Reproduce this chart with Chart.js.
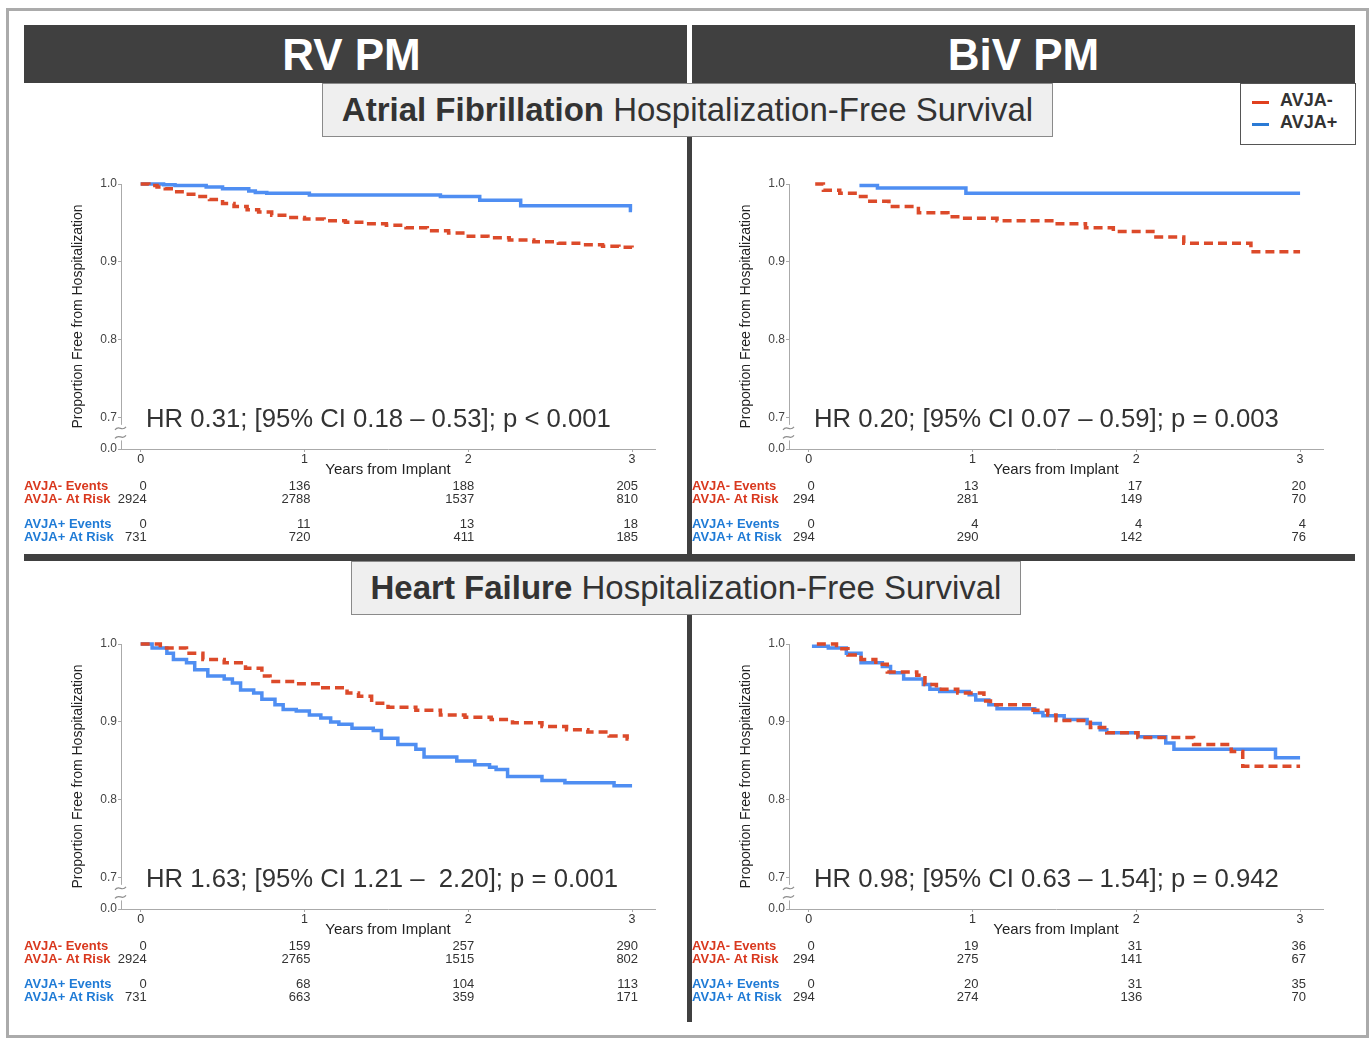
<!DOCTYPE html>
<html>
<head>
<meta charset="utf-8">
<script src="https://cdn.jsdelivr.net/npm/chart.js@4.4.1/dist/chart.umd.min.js"></script>
<style>
  body { margin:0; width:1372px; height:1040px; background:#fff; position:relative; overflow:hidden;
         font-family:'Liberation Sans', Arial, sans-serif; }
  .abs { position:absolute; }
  .frame { left:6px; top:8px; width:1363px; height:1030px; box-sizing:border-box; border:3px solid #ababab; }
  .bar { background:#404040; }
  .head { top:25px; height:58px; line-height:60px; color:#fff; font-weight:bold; font-size:44px; text-align:center; }
  .sub { background:#efefef; border:1px solid #8a8a8a; box-sizing:border-box; color:#333;
         font-size:33px; text-align:center; line-height:52px; white-space:nowrap; }
  .legend { left:1240px; top:83px; width:116px; height:62px; box-sizing:border-box; border:1px solid #555; background:#fff; }
  .legend div { position:absolute; left:39px; font-weight:bold; font-size:18px; color:#333; }
  .legend span { position:absolute; left:11px; width:17px; height:3px; }
  canvas { position:absolute; }
</style>
</head>
<body>
<div class="abs frame"></div>
<div class="abs bar" style="left:24px;top:25px;width:1331px;height:58px"></div>
<div class="abs" style="left:687px;top:25px;width:5px;height:58px;background:#fff"></div>
<div class="abs head" style="left:20px;width:663px">RV PM</div>
<div class="abs head" style="left:692px;width:663px">BiV PM</div>
<div class="abs bar" style="left:687px;top:137px;width:5px;height:417px"></div>
<div class="abs bar" style="left:24px;top:554px;width:1331px;height:7px"></div>
<div class="abs bar" style="left:687px;top:615px;width:5px;height:407px"></div>
<div class="abs sub" style="left:322px;top:83px;width:731px;height:54px"><b>Atrial Fibrillation</b> Hospitalization-Free Survival</div>
<div class="abs sub" style="left:351px;top:561px;width:670px;height:54px"><b>Heart Failure</b> Hospitalization-Free Survival</div>
<div class="abs legend">
  <span style="top:17px;background:#e0401e"></span><div style="top:6px">AVJA-</div>
  <span style="top:39px;background:#2a7ad5"></span><div style="top:28px">AVJA+</div>
</div>

<canvas id="rvAf" width="664" height="414" style="left:24px;top:140px"></canvas>
<canvas id="bivAf" width="664" height="414" style="left:692px;top:140px"></canvas>
<canvas id="rvHf" width="664" height="414" style="left:24px;top:600px"></canvas>
<canvas id="bivHf" width="664" height="414" style="left:692px;top:600px"></canvas>

<script>
// tick values and labels (0.66 stands for the broken axis, labelled 0.0)
var xTickValues = [0, 1, 2, 3];
var yTickValues = [0.66, 0.7, 0.8, 0.9, 1.0];
var yTickLabels = ['0.0', '0.7', '0.8', '0.9', '1.0'];

// RV PM, atrial fibrillation
var rvAfNegT = [0, 0.05, 0.1, 0.15, 0.22, 0.28, 0.35, 0.42, 0.5, 0.57, 0.65, 0.72, 0.8, 0.9, 1.0, 1.12, 1.25, 1.38, 1.5, 1.62, 1.75, 1.88, 2.0, 2.12, 2.25, 2.4, 2.55, 2.7, 2.82, 2.92, 3.0];
var rvAfNegS = [1.0, 0.998, 0.996, 0.994, 0.990, 0.987, 0.984, 0.980, 0.975, 0.971, 0.967, 0.964, 0.960, 0.957, 0.955, 0.953, 0.951, 0.949, 0.947, 0.944, 0.940, 0.937, 0.933, 0.931, 0.928, 0.926, 0.924, 0.922, 0.920, 0.919, 0.918];
var rvAfPosT = [0, 0.14, 0.21, 0.40, 0.50, 0.66, 0.70, 0.77, 1.03, 1.83, 2.07, 2.32, 2.99, 3.0];
var rvAfPosS = [1.0, 0.999, 0.998, 0.996, 0.994, 0.991, 0.989, 0.988, 0.986, 0.984, 0.979, 0.972, 0.966, 0.966];

// BiV PM, atrial fibrillation
var bivAfNegT = [0.04, 0.09, 0.19, 0.30, 0.35, 0.49, 0.67, 0.85, 0.93, 1.15, 1.50, 1.69, 1.86, 2.12, 2.29, 2.70, 3.0];
var bivAfNegS = [1.0, 0.992, 0.988, 0.984, 0.978, 0.971, 0.963, 0.958, 0.956, 0.953, 0.949, 0.944, 0.939, 0.932, 0.924, 0.913, 0.913];
var bivAfPosT = [0.31, 0.42, 0.96, 3.0];
var bivAfPosS = [0.998, 0.995, 0.988, 0.988];

// RV PM, heart failure
var rvHfNegT = [0, 0.12, 0.28, 0.38, 0.51, 0.64, 0.74, 0.79, 0.95, 1.10, 1.26, 1.33, 1.41, 1.51, 1.68, 1.83, 1.98, 2.14, 2.27, 2.45, 2.60, 2.73, 2.86, 2.97, 3.0];
var rvHfNegS = [1.0, 0.995, 0.988, 0.980, 0.976, 0.969, 0.959, 0.952, 0.949, 0.944, 0.937, 0.933, 0.924, 0.919, 0.915, 0.909, 0.906, 0.903, 0.899, 0.894, 0.890, 0.887, 0.882, 0.878, 0.878];
var rvHfPosT = [0, 0.07, 0.16, 0.20, 0.28, 0.33, 0.41, 0.51, 0.56, 0.61, 0.69, 0.74, 0.82, 0.87, 0.95, 1.03, 1.10, 1.16, 1.21, 1.29, 1.42, 1.47, 1.57, 1.68, 1.73, 1.93, 2.04, 2.13, 2.17, 2.24, 2.45, 2.59, 2.89, 3.0];
var rvHfPosS = [1.0, 0.995, 0.988, 0.980, 0.976, 0.967, 0.959, 0.955, 0.950, 0.941, 0.937, 0.929, 0.922, 0.916, 0.914, 0.909, 0.905, 0.900, 0.897, 0.892, 0.889, 0.879, 0.871, 0.865, 0.855, 0.850, 0.845, 0.842, 0.839, 0.830, 0.825, 0.822, 0.818, 0.818];

// BiV PM, heart failure
var bivHfNegT = [0.05, 0.17, 0.24, 0.32, 0.41, 0.48, 0.66, 0.71, 0.78, 0.91, 1.07, 1.11, 1.37, 1.46, 1.51, 1.72, 1.82, 2.01, 2.35, 2.58, 2.65, 3.0];
var bivHfNegS = [1.0, 0.994, 0.986, 0.980, 0.974, 0.964, 0.960, 0.948, 0.942, 0.937, 0.927, 0.922, 0.915, 0.909, 0.902, 0.893, 0.886, 0.880, 0.871, 0.862, 0.843, 0.843];
var bivHfPosT = [0.02, 0.12, 0.23, 0.32, 0.45, 0.50, 0.58, 0.70, 0.74, 0.80, 0.98, 1.02, 1.10, 1.15, 1.38, 1.43, 1.56, 1.70, 1.78, 1.82, 2.01, 2.18, 2.23, 2.85, 3.0];
var bivHfPosS = [0.997, 0.995, 0.988, 0.976, 0.971, 0.963, 0.955, 0.948, 0.942, 0.939, 0.935, 0.928, 0.922, 0.917, 0.912, 0.908, 0.903, 0.898, 0.890, 0.886, 0.881, 0.873, 0.865, 0.854, 0.854];

// numbers at risk tables
var rvAfNegEvents = [0, 136, 188, 205],  rvAfNegRisk = [2924, 2788, 1537, 810];
var rvAfPosEvents = [0, 11, 13, 18],     rvAfPosRisk = [731, 720, 411, 185];
var bivAfNegEvents = [0, 13, 17, 20],    bivAfNegRisk = [294, 281, 149, 70];
var bivAfPosEvents = [0, 4, 4, 4],       bivAfPosRisk = [294, 290, 142, 76];
var rvHfNegEvents = [0, 159, 257, 290],  rvHfNegRisk = [2924, 2765, 1515, 802];
var rvHfPosEvents = [0, 68, 104, 113],   rvHfPosRisk = [731, 663, 359, 171];
var bivHfNegEvents = [0, 19, 31, 36],    bivHfNegRisk = [294, 275, 141, 67];
var bivHfPosEvents = [0, 20, 31, 35],    bivHfPosRisk = [294, 274, 136, 70];

var FONT = "'Liberation Sans', Arial, sans-serif";
var RED = '#dc4a2a', BLUE = '#4f8ef2';
var RED_TXT = '#d9381e', BLUE_TXT = '#1f7bd6';
var rowY = [346, 359, 384, 397];

function pts(t, s) {
  return t.map(function (v, i) { return { x: v, y: s[i] }; });
}

var kmExtras = {
  id: 'kmExtras',
  afterDraw: function (chart, args, opts) {
    var ctx = chart.ctx, xs = chart.scales.x, ys = chart.scales.y;
    var ax = chart.chartArea.left;
    ctx.save();
    // axis break
    var yA = ys.getPixelForValue(0.691), yB = ys.getPixelForValue(0.671);
    ctx.fillStyle = '#fff';
    ctx.fillRect(ax - 1.5, yA, 3, yB - yA);
    ctx.strokeStyle = '#8c8c8c';
    ctx.lineWidth = 1.2;
    [ys.getPixelForValue(0.6865), ys.getPixelForValue(0.6755)].forEach(function (cy) {
      ctx.beginPath();
      ctx.moveTo(ax - 6, cy + 1.5);
      ctx.bezierCurveTo(ax - 2, cy - 4, ax + 1, cy + 4, ax + 5, cy - 1.5);
      ctx.stroke();
    });
    // hazard ratio text
    ctx.fillStyle = '#333';
    ctx.font = '25.7px ' + FONT;
    ctx.textAlign = 'left';
    ctx.textBaseline = 'alphabetic';
    ctx.fillText(opts.hr, ax + 25, ys.getPixelForValue(0.688));
    // risk table
    ctx.textBaseline = 'middle';
    opts.rows.forEach(function (r, i) {
      ctx.font = 'bold 13px ' + FONT;
      ctx.fillStyle = r.color;
      ctx.textAlign = 'left';
      ctx.fillText(r.label, 0, rowY[i]);
      ctx.font = '13px ' + FONT;
      ctx.fillStyle = '#333';
      ctx.textAlign = 'right';
      r.values.forEach(function (v, j) {
        ctx.fillText(String(v), xs.getPixelForValue(xTickValues[j]) + 6, rowY[i]);
      });
    });
    ctx.restore();
  }
};

function makeKM(id, negT, negS, posT, posS, hr, negEv, negRisk, posEv, posRisk) {
  new Chart(document.getElementById(id), {
    type: 'line',
    data: {
      datasets: [{
        label: 'AVJA-',
        data: pts(negT, negS),
        borderColor: RED,
        borderWidth: 3.5,
        borderDash: [9, 5],
        stepped: true,
        pointRadius: 0,
        clip: false
      }, {
        label: 'AVJA+',
        data: pts(posT, posS),
        borderColor: BLUE,
        borderWidth: 3.5,
        stepped: true,
        pointRadius: 0,
        clip: false
      }]
    },
    options: {
      responsive: false,
      animation: false,
      layout: { padding: { top: 44, right: 33, bottom: 75, left: 0 } },
      plugins: {
        legend: { display: false },
        tooltip: { enabled: false },
        kmExtras: {
          hr: hr,
          rows: [
            { label: 'AVJA- Events', color: RED_TXT, values: negEv },
            { label: 'AVJA- At Risk', color: RED_TXT, values: negRisk },
            { label: 'AVJA+ Events', color: BLUE_TXT, values: posEv },
            { label: 'AVJA+ At Risk', color: BLUE_TXT, values: posRisk }
          ]
        }
      },
      scales: {
        x: {
          type: 'linear',
          min: -0.12,
          max: 3.14,
          afterBuildTicks: function (s) { s.ticks = xTickValues.map(function (v) { return { value: v }; }); },
          afterFit: function (s) { s.height = 30; },
          grid: { drawOnChartArea: false, color: '#aaa', tickLength: 3 },
          border: { color: '#aaa' },
          ticks: { color: '#333', font: { family: FONT, size: 12.5 }, padding: 0, maxRotation: 0 },
          title: { display: true, text: 'Years from Implant', color: '#222', font: { family: FONT, size: 15 }, padding: { top: 0, bottom: 0 } }
        },
        y: {
          min: 0.66,
          max: 1.0,
          afterBuildTicks: function (s) { s.ticks = yTickValues.map(function (v) { return { value: v }; }); },
          afterFit: function (s) { s.width = 97; },
          grid: { drawOnChartArea: false, color: '#aaa', tickLength: 3 },
          border: { color: '#aaa' },
          ticks: {
            color: '#444', font: { family: FONT, size: 12 }, padding: 1,
            callback: function (v, i) { return yTickLabels[i]; }
          },
          title: { display: true, text: 'Proportion Free from Hospitalization', color: '#222', font: { family: FONT, size: 14 }, padding: { top: 46, bottom: 0 } }
        }
      }
    },
    plugins: [kmExtras]
  });
}

makeKM('rvAf', rvAfNegT, rvAfNegS, rvAfPosT, rvAfPosS,
  'HR 0.31; [95% CI 0.18 \u2013 0.53]; p < 0.001',
  rvAfNegEvents, rvAfNegRisk, rvAfPosEvents, rvAfPosRisk);
makeKM('bivAf', bivAfNegT, bivAfNegS, bivAfPosT, bivAfPosS,
  'HR 0.20; [95% CI 0.07 \u2013 0.59]; p = 0.003',
  bivAfNegEvents, bivAfNegRisk, bivAfPosEvents, bivAfPosRisk);
makeKM('rvHf', rvHfNegT, rvHfNegS, rvHfPosT, rvHfPosS,
  'HR 1.63; [95% CI 1.21 \u2013  2.20]; p = 0.001',
  rvHfNegEvents, rvHfNegRisk, rvHfPosEvents, rvHfPosRisk);
makeKM('bivHf', bivHfNegT, bivHfNegS, bivHfPosT, bivHfPosS,
  'HR 0.98; [95% CI 0.63 \u2013 1.54]; p = 0.942',
  bivHfNegEvents, bivHfNegRisk, bivHfPosEvents, bivHfPosRisk);
</script>
</body>
</html>
